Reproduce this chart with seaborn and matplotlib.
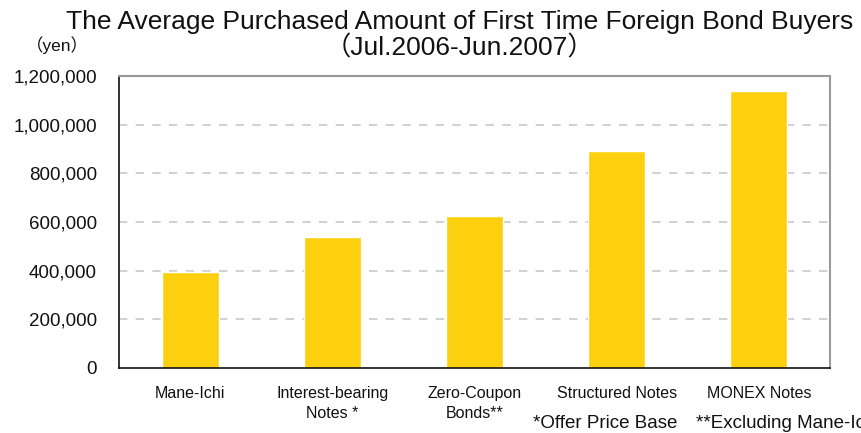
import matplotlib
matplotlib.use("Agg")
import matplotlib.pyplot as plt
import seaborn as sns
import pandas as pd
from matplotlib.ticker import FuncFormatter, FixedLocator

categories = ["Mane-Ichi", "Interest-bearing\nNotes *", "Zero-Coupon\nBonds**", "Structured Notes", "MONEX Notes"]
values = [395000, 538000, 625000, 892000, 1138000]
yticks = [0, 200000, 400000, 600000, 800000, 1000000, 1200000]

sns.set_theme(style="white")
fam = ['Liberation Sans', 'Noto Sans CJK JP', 'DejaVu Sans']
plt.rcParams['font.family'] = fam

df = pd.DataFrame({"cat": categories, "val": values})

fig = plt.figure(figsize=(8.62, 4.33), dpi=100)
ax = fig.add_axes([119/862, 1-368/433, (830-119)/862, (368-76)/433])
sns.barplot(data=df, x="cat", y="val", color="#FCD00E", width=0.4, ax=ax, saturation=1)

ax.set_xlim(-0.5, 4.5)
ax.set_ylim(0, 1200000)
ax.set_yticks(yticks)
ax.yaxis.set_major_formatter(FuncFormatter(lambda v, p: f"{int(v):,}"))
ax.tick_params(axis='y', direction='in', length=5, width=1, color='#333333', labelsize=13.5, pad=16, labelcolor='#111111')
for t in yticks[1:-1]:
    ax.axhline(t, color='#C8C8C8', lw=1.2, ls=(0, (5, 5)), zorder=0)

ax.xaxis.set_major_locator(FixedLocator([0.5, 1.5, 2.5, 3.5]))
ax.xaxis.set_major_formatter(FuncFormatter(lambda v, p: ""))
ax.tick_params(axis='x', which='major', direction='in', length=5, width=1, color='#333333')
ax.xaxis.set_minor_locator(FixedLocator(list(range(len(categories)))))
ax.set_xticklabels(categories, minor=True)
ax.tick_params(axis='x', which='minor', length=0, labelsize=11.5, pad=13, labelcolor='#111111')
for lbl in ax.get_xticklabels(minor=True):
    lbl.set_verticalalignment('top')
    lbl.set_linespacing(1.4)
ax.set_xlabel("")
ax.set_ylabel("")

for side in ['left', 'bottom']:
    ax.spines[side].set_color('#111111')
    ax.spines[side].set_linewidth(1.2)
for side in ['top', 'right']:
    ax.spines[side].set_visible(True)
    ax.spines[side].set_color('#999999')
    ax.spines[side].set_linewidth(1.5)

fig.text(460/862, 1-22/433, "The Average Purchased Amount of First Time Foreign Bond Buyers",
         ha='center', va='center', fontsize=19, color='#111111')
fig.text(460/862, 1-48/433, "（Jul.2006-Jun.2007）", ha='center', va='center', fontsize=19, color='#111111')
fig.text(26/862, 1-45/433, "（yen）", ha='left', va='center', fontsize=12.5, color='#111111')
fig.text(533/862, 1-424/433, "*Offer Price Base", ha='left', va='center', fontsize=13.5, color='#111111')
fig.text(696/862, 1-424/433, "**Excluding Mane-Ichi", ha='left', va='center', fontsize=13.5, color='#111111')

fig.savefig("out.png", dpi=100)
